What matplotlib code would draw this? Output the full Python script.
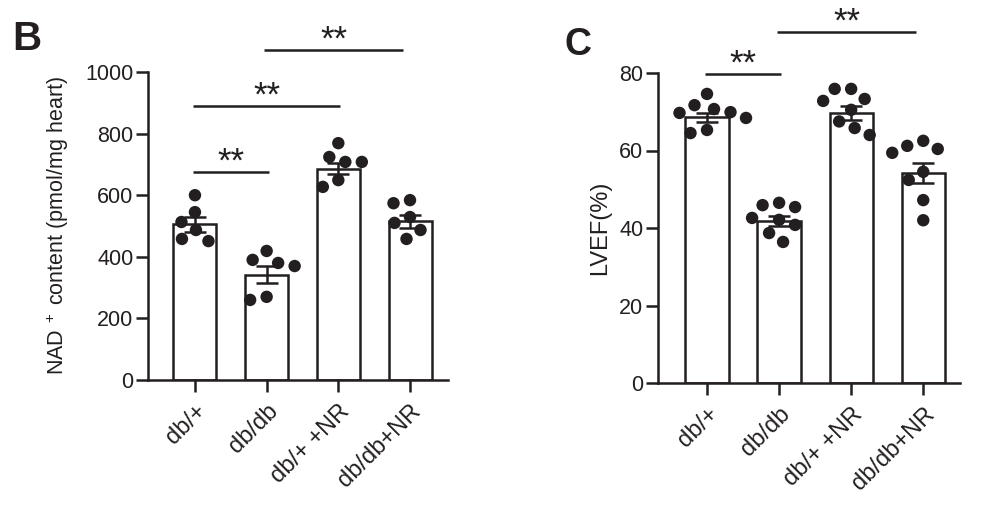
import numpy as np
import matplotlib
matplotlib.use("Agg")
import matplotlib.pyplot as plt
from matplotlib.transforms import offset_copy

plt.rcParams['font.family'] = ['Liberation Sans', 'DejaVu Sans']
plt.rcParams['mathtext.fontset'] = 'custom'
plt.rcParams['mathtext.rm'] = 'Liberation Sans'
plt.rcParams['mathtext.it'] = 'Liberation Sans'

# ---------------- data ----------------
groups = ["db/+", "db/db", "db/+ +NR", "db/db+NR"]

nad_mean = [505, 342, 686, 515]
nad_sem = [25, 27, 18, 20]
nad_points = [
    [600, 545, 513, 487, 458, 451],
    [419, 390, 380, 370, 270, 260],
    [769, 724, 708, 708, 649, 627],
    [584, 574, 529, 510, 487, 458],
]

lvef_mean = [68.6, 41.8, 69.7, 54.2]
lvef_sem = [1.2, 1.3, 1.8, 2.7]
lvef_points = [
    [74.6, 71.7, 70.7, 69.9, 69.7, 68.4, 65.3, 64.5],
    [46.5, 45.9, 45.4, 42.6, 42.1, 40.8, 38.7, 36.4],
    [75.9, 75.9, 73.3, 72.8, 70.5, 67.5, 65.8, 64.0],
    [62.5, 61.2, 60.4, 59.4, 54.5, 52.4, 47.2, 42.0],
]

nad_ticks = [0, 200, 400, 600, 800, 1000]
lvef_ticks = [0, 20, 40, 60, 80]

# significance: (group_from, group_to, height, label)
nad_sig = [(0, 1, 675, "**"), (0, 2, 890, "**"), (1, 2.87, 1071, "**")]
lvef_sig = [(0, 1, 79.7, "**"), (1, 2.87, 90.6, "**")]

# ---------------- style ----------------
DARK = "#231f20"
LW = 1.8
W, H = 985, 520

fig = plt.figure(figsize=(W / 100, H / 100), dpi=100)
fig.patch.set_facecolor("white")


def add_ax(x0, x1, ybot, ytop):
    return fig.add_axes([x0 / W, 1 - ybot / H, (x1 - x0) / W, (ybot - ytop) / H])


axL = add_ax(148, 448, 380, 72)
axR = add_ax(658, 960, 383, 73)


def swarm_offsets(ax, xc, vals, diam=16.5, step=0.5):
    placed = []
    order = np.argsort(-np.asarray(vals), kind="stable")
    res = [None] * len(vals)
    for i in order:
        v = vals[i]
        px, py = ax.transData.transform((xc, v))
        chosen = None
        k = 0
        while chosen is None:
            cands = [0.0] if k == 0 else [-k * step, k * step]
            for dx in cands:
                if all((dx - ox) ** 2 + (py - oy) ** 2 >= diam ** 2 for ox, oy in placed):
                    chosen = dx
                    break
            k += 1
        placed.append((chosen, py))
        xd, _ = ax.transData.inverted().transform((px + chosen, py))
        res[i] = xd
    return res


def draw_panel(ax, means, sems, points, ticks, sig, ylim, xlim, ylabel, ylabel_size, labelpad):
    x = np.arange(len(groups))
    ax.set_xlim(*xlim)
    ax.set_ylim(*ylim)
    ax.bar(x, means, width=0.6, color="white", edgecolor=DARK, linewidth=LW, zorder=2)
    for i, pts in enumerate(points):
        xs = swarm_offsets(ax, x[i], pts)
        ax.scatter(xs, pts, s=80, color=DARK, edgecolors="none", zorder=3, clip_on=False)
    ax.errorbar(x, means, yerr=sems, fmt="none", ecolor=DARK, elinewidth=LW,
                capsize=8, capthick=LW, zorder=4)
    for spine in ["top", "right"]:
        ax.spines[spine].set_visible(False)
    for spine in ["left", "bottom"]:
        ax.spines[spine].set_linewidth(LW)
        ax.spines[spine].set_color(DARK)
    ax.set_yticks(ticks)
    ax.set_yticklabels([str(t) for t in ticks], fontsize=15.5, color=DARK)
    ax.set_xticks(x)
    ax.set_xticklabels(groups, rotation=45, ha="right", va="top",
                       rotation_mode="anchor", fontsize=17, color=DARK)
    ax.tick_params(axis="both", direction="out", length=8.5, width=LW, color=DARK, pad=2)
    ax.tick_params(axis="x", pad=6)
    ax.set_ylabel(ylabel, fontsize=ylabel_size, color=DARK, labelpad=labelpad)
    tr = offset_copy(ax.transData, fig=fig, x=0, y=0.5, units="points")
    for g0, g1, h, lab in sig:
        ax.plot([g0 - 0.03, g1 + 0.03], [h, h], color=DARK, lw=LW, clip_on=False,
                solid_capstyle="butt")
        ax.text((g0 + g1) / 2, h, lab, ha="center", va="baseline", transform=tr,
                fontsize=25, color=DARK, clip_on=False)


draw_panel(axL, nad_mean, nad_sem, nad_points, nad_ticks, nad_sig,
           (0, 1000), (-0.655, 3.53), "NAD$^{\\ +}$ content (pmol/mg heart)", 15.5, 10)
draw_panel(axR, lvef_mean, lvef_sem, lvef_points, lvef_ticks, lvef_sig,
           (0, 80), (-0.68, 3.51), "LVEF(%)", 17, 6)

fig.text(12 / W, 1 - 50 / H, "B", fontsize=29, fontweight="bold", color=DARK,
         ha="left", va="baseline")
fig.text(564 / W, 1 - 55 / H, "C", fontsize=27, fontweight="bold", color=DARK,
         ha="left", va="baseline")

fig.savefig("out.png", dpi=100, facecolor="white")
